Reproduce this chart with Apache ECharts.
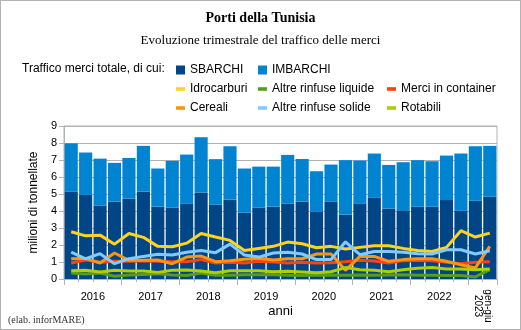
<!DOCTYPE html>
<html><head><meta charset="utf-8">
<script src="https://cdn.jsdelivr.net/npm/echarts@6/dist/echarts.min.js"></script>
<style>
html,body{margin:0;padding:0;background:#fff;}
#c{width:519px;height:328px;border:1px solid #b3b3b3;}
</style></head>
<body><div id="c"></div>
<script>
const quarters = ['2016 T1','2016 T2','2016 T3','2016 T4','2017 T1','2017 T2','2017 T3','2017 T4','2018 T1','2018 T2','2018 T3','2018 T4','2019 T1','2019 T2','2019 T3','2019 T4','2020 T1','2020 T2','2020 T3','2020 T4','2021 T1','2021 T2','2021 T3','2021 T4','2022 T1','2022 T2','2022 T3','2022 T4','2023 T1','2023 T2'];
const yearLabels = ['2016','2017','2018','2019','2020','2021','2022'];
const yearLabelPos = [2,6,10,14,18,22,26];
const yearTickPos = [0,4,8,12,16,20,24,28,30];
const lastLabel = 'gen-giu\n2023';
const lastLabelPos = [29];

const sbarchi  = [5.13,4.95,4.32,4.56,4.74,5.15,4.27,4.19,4.42,5.09,4.38,4.68,3.91,4.19,4.27,4.44,4.56,3.97,4.54,3.80,4.42,4.77,4.15,4.05,4.25,4.25,4.64,4.01,4.60,4.85];
const imbarchi = [2.85,2.49,2.76,2.27,2.38,2.68,2.23,2.76,2.90,3.25,2.67,3.13,2.59,2.42,2.34,2.86,2.50,2.37,2.19,3.19,2.55,2.61,2.56,2.82,2.74,2.68,2.62,3.37,3.21,2.98];
const idrocarburi = [2.78,2.54,2.58,2.05,2.68,2.45,1.92,1.90,2.11,2.68,2.47,2.27,1.68,1.80,1.92,2.17,2.07,1.84,1.92,1.76,1.86,1.96,1.96,1.80,1.68,1.62,1.86,2.84,2.47,2.70];
const liquide  = [0.35,0.29,0.35,0.16,0.23,0.27,0.31,0.23,0.20,0.35,0.22,0.22,0.25,0.25,0.25,0.22,0.20,0.22,0.24,0.22,0.24,0.22,0.24,0.25,0.22,0.22,0.20,0.20,0.12,0.55];
const container = [0.94,1.12,0.98,1.04,1.04,1.08,1.04,1.02,1.02,1.14,0.94,0.98,0.94,1.04,1.00,0.94,0.98,0.94,0.96,1.02,1.10,1.06,0.94,1.08,1.10,1.08,0.98,0.90,0.98,1.02];
const cereali  = [1.19,1.21,0.94,1.53,1.10,1.10,1.12,0.90,1.29,1.35,1.02,1.08,1.16,1.22,1.12,1.19,1.19,1.47,1.47,0.51,1.33,1.33,1.04,1.14,1.19,1.19,1.04,0.84,0.65,1.92];
const solide   = [1.58,1.19,1.49,0.90,1.19,1.33,1.45,1.41,1.57,1.68,1.55,2.05,1.41,1.29,1.53,1.57,1.47,1.14,1.14,2.19,1.43,1.62,1.62,1.57,1.49,1.47,1.72,1.72,1.47,1.66];
const rotabili = [0.49,0.51,0.41,0.51,0.47,0.47,0.39,0.51,0.53,0.47,0.37,0.49,0.49,0.49,0.43,0.45,0.41,0.37,0.43,0.67,0.55,0.51,0.43,0.55,0.63,0.67,0.59,0.59,0.55,0.59];

const chart = echarts.init(document.getElementById('c'), null, {renderer:'canvas'});
const sans = '"Liberation Sans", Arial, sans-serif';
const serif = '"Liberation Serif", "Times New Roman", serif';
const gray = '#b3b3b3';

function lineSeries(name, data, color){
  return {name, type:'line', data, xAxisIndex:0, yAxisIndex:0, symbol:'none',
    lineStyle:{color, width:3}, itemStyle:{color}, z:3};
}
const legText = {fontFamily:sans, fontSize:12, color:'#000', lineHeight:14};
function legend(left, top, data){
  return {left, top, padding:0, orient:'vertical', itemGap:5, itemWidth:9, itemHeight:9,
    selectedMode:false, textStyle:legText, data};
}
const barIcon = 'rect';
const lineIcon = 'path://M0,3L10,3L10,7L0,7Z';

chart.setOption({
  animation:false,
  backgroundColor:'#fff',
  title:[
    {text:'Porti della Tunisia', left:'center', top:10, padding:0, textStyle:{fontFamily:serif, fontSize:14, fontWeight:'bold', color:'#000'}},
    {text:'Evoluzione trimestrale del traffico delle merci', left:'center', top:33, padding:0, textStyle:{fontFamily:serif, fontSize:13, fontWeight:'normal', color:'#000'}},
    {text:'Traffico merci totale, di cui:', left:21, top:62, padding:0, textStyle:{fontFamily:sans, fontSize:12, fontWeight:'normal', color:'#000'}},
    {text:'(elab. inforMARE)', left:7, top:314, padding:0, textStyle:{fontFamily:serif, fontSize:10, fontWeight:'normal', color:'#333'}}
  ],
  legend:[
    legend(175, 62, [{name:'SBARCHI', icon:barIcon},{name:'Idrocarburi', icon:lineIcon},{name:'Cereali', icon:lineIcon}]),
    legend(257, 62, [{name:'IMBARCHI', icon:barIcon},{name:'Altre rinfuse liquide', icon:lineIcon},{name:'Altre rinfuse solide', icon:lineIcon}]),
    legend(386, 81, [{name:'Merci in container', icon:lineIcon},{name:'Rotabili', icon:lineIcon}])
  ],
  grid:{left:63, top:125, width:433, height:153, show:true, borderColor:gray, borderWidth:1, backgroundColor:'transparent'},
  xAxis:[
    {type:'category', data:quarters, boundaryGap:true,
      axisLine:{show:true, lineStyle:{color:gray}},
      axisTick:{show:true, length:3, interval:0, lineStyle:{color:gray}},
      axisLabel:{show:false}, splitLine:{show:false},
      name:'anni', nameLocation:'middle', nameGap:26,
      nameTextStyle:{fontFamily:sans, fontSize:13, color:'#000'}},
    {type:'value', min:0, max:30, position:'bottom',
      axisLine:{show:false},
      axisTick:{show:true, length:6, customValues:yearTickPos, lineStyle:{color:gray}},
      axisLabel:{show:true, customValues:yearLabelPos, margin:12,
        formatter:(v)=> yearLabels[yearLabelPos.indexOf(v)] || '',
        fontFamily:sans, fontSize:11, color:'#000'},
      splitLine:{show:false}},
    {type:'value', min:0, max:30, position:'bottom',
      axisLine:{show:false}, axisTick:{show:false},
      axisLabel:{show:true, customValues:lastLabelPos, rotate:-90, margin:27,
        align:'center', verticalAlign:'middle',
        formatter:()=> lastLabel, fontFamily:sans, fontSize:10, color:'#000', lineHeight:10},
      splitLine:{show:false}}
  ],
  yAxis:{type:'value', min:0, max:9, interval:1,
    axisLine:{show:true, lineStyle:{color:gray}},
    axisTick:{show:true, length:5, lineStyle:{color:gray}},
    axisLabel:{fontFamily:sans, fontSize:11, color:'#000', margin:7},
    splitLine:{show:true, lineStyle:{color:gray, width:1}},
    name:'milioni di tonnellate', nameLocation:'middle', nameGap:17,
    nameTextStyle:{fontFamily:sans, fontSize:12, color:'#000'}},
  series:[
    {name:'SBARCHI', type:'bar', stack:'tot', data:sbarchi, barCategoryGap:'9%',
      itemStyle:{color:'#004586'}, z:2},
    {name:'IMBARCHI', type:'bar', stack:'tot', data:imbarchi, barCategoryGap:'9%',
      itemStyle:{color:'#0084d1'}, z:2},
    lineSeries('Idrocarburi', idrocarburi, '#ffd320'),
    lineSeries('Altre rinfuse liquide', liquide, '#579d1c'),
    lineSeries('Merci in container', container, '#ff420e'),
    lineSeries('Cereali', cereali, '#ff950e'),
    lineSeries('Altre rinfuse solide', solide, '#83caff'),
    lineSeries('Rotabili', rotabili, '#aecf00')
  ]
});
</script></body></html>
